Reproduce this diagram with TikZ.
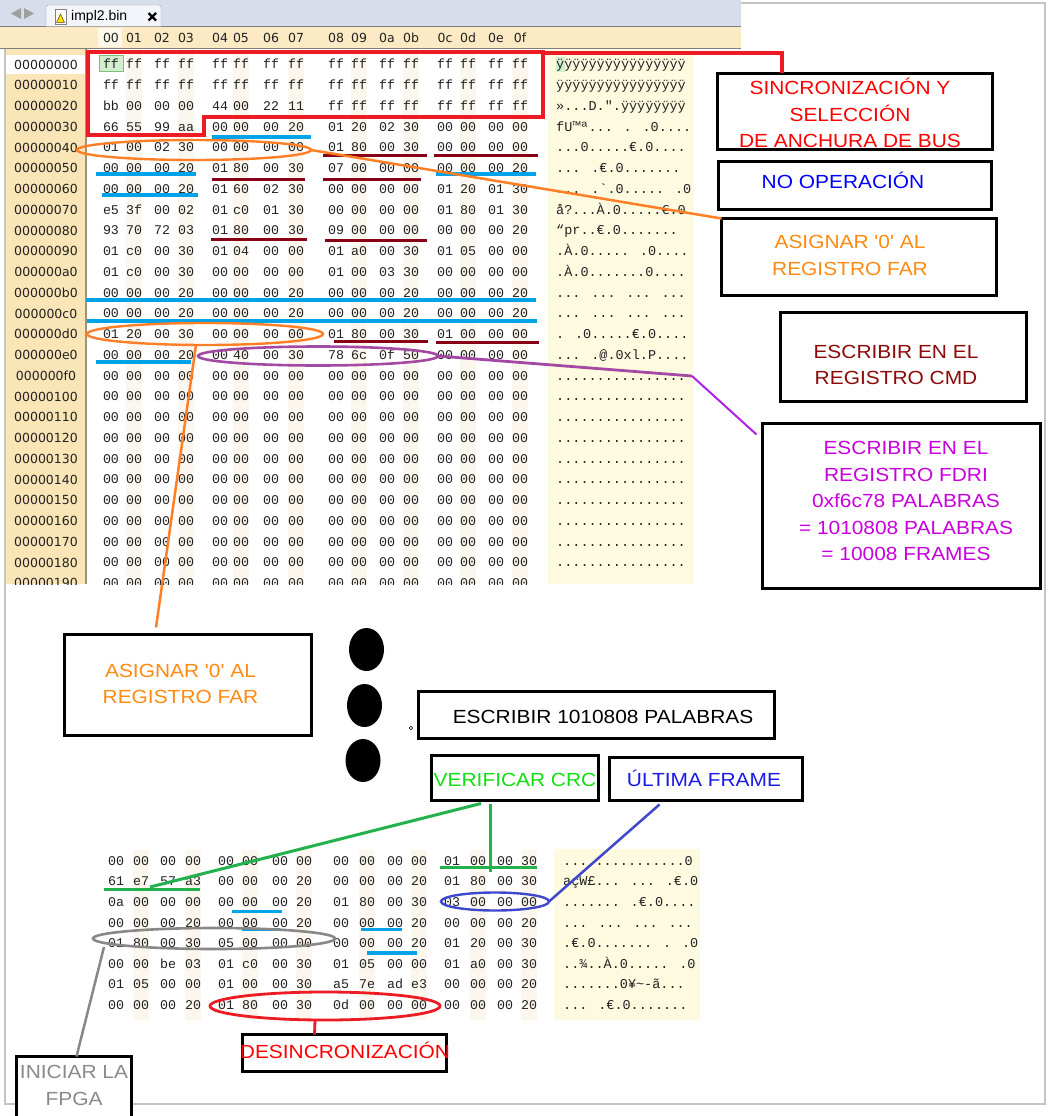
\documentclass[tikz,border=0pt]{standalone}
\usepackage{fontspec}
\usetikzlibrary{calc,shapes.geometric}

\newfontfamily\calloutfont[FakeStretch=1.1,Ligatures=TeXOff]{Liberation Sans}
\newfontfamily\hexfont[Ligatures=TeXOff]{Liberation Mono}
\newfontfamily\addrfont{DejaVu Sans}
\newfontfamily\uifont{Liberation Sans}

% editor chrome
\definecolor{tabbar}{HTML}{D8DDEB}
\definecolor{tabface}{HTML}{F3F5FA}
\definecolor{tabedge}{HTML}{9AA3B5}
\definecolor{chromeline}{HTML}{7E7E7E}
\definecolor{headbg}{HTML}{FBEAC3}
\definecolor{addrbg}{HTML}{F9E5B6}
\definecolor{addrline}{HTML}{A0937C}
\definecolor{asciibg}{HTML}{FEFAE0}
\definecolor{stripe}{HTML}{FCF7EE}
\definecolor{hexink}{HTML}{222222}
\definecolor{cursorfill}{HTML}{D3EDCF}
\definecolor{cursorline}{HTML}{7DBE78}
\definecolor{framegrey}{HTML}{C4C4C4}
% marker pens
\definecolor{mkred}{HTML}{ED1C24}
\definecolor{mkblue}{HTML}{00A2E8}
\definecolor{mkdarkred}{HTML}{880015}
\definecolor{mkorange}{HTML}{FF7F27}
\definecolor{mkpurple}{HTML}{A349A4}
\definecolor{mkviolet}{HTML}{B020E8}
\definecolor{mkgreen}{HTML}{22B14C}
\definecolor{mkindigo}{HTML}{3F48CC}
\definecolor{mkgrey}{HTML}{888888}
% note texts
\definecolor{txred}{HTML}{FF0000}
\definecolor{txblue}{HTML}{0000FF}
\definecolor{txorange}{HTML}{FF8A12}
\definecolor{txmaroon}{HTML}{8C0A0A}
\definecolor{txmagenta}{HTML}{C800DC}
\definecolor{txgreen}{HTML}{10E010}
\definecolor{txindigo}{HTML}{1A1AE6}
\definecolor{txgrey}{HTML}{8A8A8A}

% line strut: 19pt above, 5.4pt below the baseline
\newcommand\ls{\rule[-5.4pt]{0pt}{24.4pt}}
\def\topcols{111,134,162,186,220,241,271,296,336,359,387,411,445,468,496,520}
\def\botcols{116,141,168,193,226,250,280,304,341,367,395,419,452,478,505,529}
\newcommand\toprow[2]{%
  \foreach \v [count=\c] in {#2} {%
    \pgfmathsetmacro\xx{{\topcols}[\c-1]}%
    \node[hexcell] (t#1-\c) at (\xx,{64.5+20.75*#1}) {\v};}}
\newcommand\botrow[2]{%
  \foreach \v [count=\c] in {#2} {%
    \pgfmathsetmacro\xx{{\botcols}[\c-1]}%
    \node[hexcell] (b#1-\c) at (\xx,{861+20.6*#1}) {\v};}}

\begin{document}
\begin{tikzpicture}[x=1pt,y=-1pt,
  hexcell/.style={font=\hexfont\fontsize{13.3}{14}\selectfont, text=hexink, inner sep=0pt, text height=8.6pt, text depth=0pt},
  asccell/.style={font=\hexfont\fontsize{13.5}{14}\selectfont, text=hexink, inner sep=0pt, anchor=west, text height=8.6pt, text depth=0pt},
  addrcell/.style={font=\addrfont\fontsize{12.5}{14}\selectfont, text=hexink, inner sep=0pt, text height=9.1pt, text depth=0pt},
  notebox/.style={draw=black, line width=2.8pt, fill=white, inner sep=0pt, outer sep=0pt},
  notetext/.style={font=\calloutfont\fontsize{19}{26.5}\selectfont, align=center, inner sep=0pt},
  markring/.style={ellipse, draw, fill=none, inner sep=0pt, outer sep=0pt},
  bigdot/.style={ellipse, fill=black, inner sep=0pt, minimum width=35pt, minimum height=43pt},
]
\fill[white] (0,0) rectangle (1049,1116);
\useasboundingbox (0,0) rectangle (1049,1116);
\draw[framegrey, line width=1.2pt] (5,3) rectangle (1045,1104);

% ---------------- hex editor window ----------------
\begin{scope}
\clip (0,0) rectangle (741,584);
\fill[tabbar] (0,0) rectangle (741,26);
\fill[headbg] (0,27) rectangle (741,48);
\draw[chromeline, line width=1pt] (0,26.5) -- (741,26.5);
\draw[chromeline, line width=0.9pt] (0,48.3) -- (741,48.3);
\fill[addrbg] (6,48.8) rectangle (86,584);
\draw[addrline, line width=1.2pt] (86,48.8) -- (86,584);
\fill[white] (6,55) rectangle (85.4,74);
\fill[asciibg] (548,48.8) rectangle (694,584);
\foreach \c in {2,4,...,16} {
  \pgfmathsetmacro\xx{{\topcols}[\c-1]}
  \fill[stripe] (\xx-8,48.8) rectangle (\xx+8,584);
}
% tab
\fill[gray!75] (11,13.5) -- (21,8) -- (21,19) -- cycle;
\fill[gray!75] (24,8) -- (24,19) -- (34,13.5) -- cycle;
\draw[tabedge, fill=tabface, rounded corners=2pt] (46,26.5) -- (46,5) -- (161,5) -- (161,26.5);
\draw[gray, fill=white, line width=0.6pt] (55,9) rectangle (66,24);
\draw[black!60!orange, fill=yellow!85!orange, line width=0.5pt] (56.5,22.5) -- (60.5,14) -- (64.5,22.5) -- cycle;
\node[font=\uifont\fontsize{14}{16}\selectfont, inner sep=0pt, anchor=west] (tabname) at (71,16.5) {impl2.bin};
\draw[line width=2.3pt] (148.5,13) -- (156,20.5) (148.5,20.5) -- (156,13);
% column header
\fill[white!65!headbg] (98,28) rectangle (122,47.5);
\foreach \h [count=\c] in {00,01,02,03,04,05,06,07,08,09,0a,0b,0c,0d,0e,0f} {
  \pgfmathsetmacro\xx{{\topcols}[\c-1]}
  \node[addrcell] (hd\c) at (\xx,38) {\h};
}
% cursor
\fill[cursorfill] (99,55) rectangle (123,71);
\draw[cursorline, line width=0.8pt] (99,55) rectangle (123,71);
\fill[cursorfill] (556,57) rectangle (565,72);
% offsets
\foreach \a [count=\i from 0] in {00000000,00000010,00000020,00000030,00000040,00000050,00000060,00000070,00000080,00000090,000000a0,000000b0,000000c0,000000d0,000000e0,000000f0,00000100,00000110,00000120,00000130,00000140,00000150,00000160,00000170,00000180,00000190}
  \node[addrcell] (addr\i) at (46,{64.5+20.75*\i}) {\a};
% bytes
\toprow{0}{ff,ff,ff,ff,ff,ff,ff,ff,ff,ff,ff,ff,ff,ff,ff,ff}
\toprow{1}{ff,ff,ff,ff,ff,ff,ff,ff,ff,ff,ff,ff,ff,ff,ff,ff}
\toprow{2}{bb,00,00,00,44,00,22,11,ff,ff,ff,ff,ff,ff,ff,ff}
\toprow{3}{66,55,99,aa,00,00,00,20,01,20,02,30,00,00,00,00}
\toprow{4}{01,00,02,30,00,00,00,00,01,80,00,30,00,00,00,00}
\toprow{5}{00,00,00,20,01,80,00,30,07,00,00,00,00,00,00,20}
\toprow{6}{00,00,00,20,01,60,02,30,00,00,00,00,01,20,01,30}
\toprow{7}{e5,3f,00,02,01,c0,01,30,00,00,00,00,01,80,01,30}
\toprow{8}{93,70,72,03,01,80,00,30,09,00,00,00,00,00,00,20}
\toprow{9}{01,c0,00,30,01,04,00,00,01,a0,00,30,01,05,00,00}
\toprow{10}{01,c0,00,30,00,00,00,00,01,00,03,30,00,00,00,00}
\toprow{11}{00,00,00,20,00,00,00,20,00,00,00,20,00,00,00,20}
\toprow{12}{00,00,00,20,00,00,00,20,00,00,00,20,00,00,00,20}
\toprow{13}{01,20,00,30,00,00,00,00,01,80,00,30,01,00,00,00}
\toprow{14}{00,00,00,20,00,40,00,30,78,6c,0f,50,00,00,00,00}
\foreach \r in {15,...,25} {\toprow{\r}{00,00,00,00,00,00,00,00,00,00,00,00,00,00,00,00}}
% text column
\node[asccell] (asc0) at (556,64.5) {ÿÿÿÿÿÿÿÿÿÿÿÿÿÿÿÿ};
\node[asccell] (asc1) at (556,85.25) {ÿÿÿÿÿÿÿÿÿÿÿÿÿÿÿÿ};
\node[asccell] (asc2) at (556,106) {»...D.".ÿÿÿÿÿÿÿÿ};
\node[asccell] (asc3) at (556,126.75) {fU™ª... . .0....};
\node[asccell] (asc4) at (556,147.5) {...0.....€.0....};
\node[asccell] (asc5) at (556,168.25) {... .€.0.......};
\node[asccell] (asc6) at (556,189) {... .`.0..... .0};
\node[asccell] (asc7) at (556,209.75) {å?...À.0.....€.0};
\node[asccell] (asc8) at (556,230.5) {“pr..€.0.......};
\node[asccell] (asc9) at (556,251.25) {.À.0..... .0....};
\node[asccell] (asc10) at (556,272) {.À.0.......0....};
\node[asccell] (asc11) at (556,292.75) {... ... ... ...};
\node[asccell] (asc12) at (556,313.5) {... ... ... ...};
\node[asccell] (asc13) at (556,334.25) {. .0.....€.0....};
\node[asccell] (asc14) at (556,355) {... .@.0xl.P....};
\foreach \r in {15,...,25} {\node[asccell] (asc\r) at (556,{64.5+20.75*\r}) {................};}
\end{scope}

% ---------------- dump excerpt near the end ----------------
\foreach \c in {2,4,...,16} {
  \pgfmathsetmacro\xx{{\botcols}[\c-1]}
  \fill[stripe] (\xx-8,850) rectangle (\xx+8,1020);
}
\fill[asciibg] (554,849) rectangle (700,1020);
\botrow{0}{00,00,00,00,00,00,00,00,00,00,00,00,01,00,00,30}
\botrow{1}{61,e7,57,a3,00,00,00,20,00,00,00,20,01,80,00,30}
\botrow{2}{0a,00,00,00,00,00,00,20,01,80,00,30,03,00,00,00}
\botrow{3}{00,00,00,20,00,00,00,20,00,00,00,20,00,00,00,20}
\botrow{4}{01,80,00,30,05,00,00,00,00,00,00,20,01,20,00,30}
\botrow{5}{00,00,be,03,01,c0,00,30,01,05,00,00,01,a0,00,30}
\botrow{6}{01,05,00,00,01,00,00,30,a5,7e,ad,e3,00,00,00,20}
\botrow{7}{00,00,00,20,01,80,00,30,0d,00,00,00,00,00,00,20}
\node[asccell] (basc0) at (563,861) {...............0};
\node[asccell] (basc1) at (563,881.6) {açW£... ... .€.0};
\node[asccell] (basc2) at (563,902.2) {....... .€.0....};
\node[asccell] (basc3) at (563,922.8) {... ... ... ...};
\node[asccell] (basc4) at (563,943.4) {.€.0....... . .0};
\node[asccell] (basc5) at (563,964) {..¾..À.0..... .0};
\node[asccell] (basc6) at (563,984.6) {.......0¥\textasciitilde{}-ã...};
\node[asccell] (basc7) at (563,1005.2) {... .€.0.......};

% ---------------- marker annotations ----------------
% NOOP words
\begin{scope}[mkblue, line width=4.5pt]
\draw (212,137) -- (311,137);
\draw (96,174) -- (196,174);
\draw (436,174) -- (536,174);
\draw (102,195) -- (198,195);
\draw (86,300) -- (536,300);
\draw (87,321) -- (537,321);
\draw (96,362) -- (191,362);
\end{scope}
\begin{scope}[mkblue, line width=3.5pt]
\draw (232,911.7) -- (282,911.7);
\draw (242,929.5) -- (280,929.5);
\draw (361,929.3) -- (402,929.3);
\draw (367,953) -- (417,953);
\end{scope}
% CMD writes
\begin{scope}[mkdarkred, line width=3pt]
\draw (323,155) -- (427,155);
\draw (434,155) -- (537.5,155);
\draw (212,179) -- (305,179);
\draw (323,179) -- (421,179);
\draw (211,239) -- (307,239);
\draw (325,240) -- (427,240);
\draw (334,341) -- (428,341);
\draw (436,342) -- (539,342);
\end{scope}
% CRC words
\begin{scope}[mkgreen, line width=3.2pt]
\draw (440,867.3) -- (537,867.3);
\draw (104,889.3) -- (200,889.3);
\end{scope}
% sync / bus width block
\draw[mkred, line width=4.5pt, line join=miter] (88,52) -- (543,52) -- (543,117) -- (204,117) -- (204,135) -- (88,135) -- cycle;
\coordinate (syncmark) at (543,53.5);

\node[markring, draw=mkorange, line width=2.4pt, minimum width=234pt, minimum height=20pt] (ring40) at (194,150) {};
\node[markring, draw=mkorange, line width=2.4pt, minimum width=236pt, minimum height=22pt] (ringd0) at (205,334) {};
\node[markring, draw=mkpurple, line width=2.6pt, minimum width=240pt, minimum height=19pt] (ringe0) at (318,356) {};
\node[markring, draw=mkindigo, line width=2.4pt, minimum width=108pt, minimum height=18pt] (ringlast) at (495,901.5) {};
\node[markring, draw=mkgrey, line width=2.6pt, minimum width=242pt, minimum height=21pt] (ringinit) at (214,938.5) {};
\node[markring, draw=mkred, line width=2.8pt, minimum width=230pt, minimum height=28pt] (ringdes) at (325,1006) {};

% ---------------- notes ----------------
\node[notebox, minimum width=275pt, minimum height=76pt] (sync) at (855,111.5) {};
\node[notetext, text=txred] (synct) at (850,114.5) {\ls SINCRONIZACIÓN Y\\\ls SELECCIÓN\\\ls DE ANCHURA DE BUS};
\node[notebox, minimum width=273pt, minimum height=48pt] (noop) at (855,185.5) {};
\node[notetext, text=txblue] (noopt) at (843,182) {\ls NO OPERACIÓN};
\node[notebox, minimum width=275pt, minimum height=77pt] (far1) at (859,257) {};
\node[notetext, text=txorange] (far1t) at (850,255) {\ls ASIGNAR '0' AL\\\ls REGISTRO FAR};
\node[notebox, minimum width=246pt, minimum height=89pt] (cmd) at (903.5,357) {};
\node[notetext, text=txmaroon] (cmdt) at (896,364.5) {\ls ESCRIBIR EN EL\\\ls REGISTRO CMD};
\node[notebox, minimum width=278pt, minimum height=165pt] (fdri) at (901.5,506) {};
\node[notetext, text=txmagenta] (fdrit) at (906,501) {\ls ESCRIBIR EN EL\\\ls REGISTRO FDRI\\\ls 0xf6c78 PALABRAS\\\ls = 1010808 PALABRAS\\\ls = 10008 FRAMES};
\node[notebox, minimum width=247pt, minimum height=101pt] (far2) at (188,685) {};
\node[notetext, text=txorange] (far2t) at (180.5,683.5) {\ls ASIGNAR '0' AL\\\ls REGISTRO FAR};
\node[notebox, minimum width=356pt, minimum height=47pt] (write) at (596.5,715) {};
\node[notetext, text=black] (writet) at (603,717) {\ls ESCRIBIR 1010808 PALABRAS};
\node[notebox, minimum width=167pt, minimum height=45pt] (crc) at (515,778) {};
\node[notetext, text=txgreen] (crct) at (515,780) {\ls VERIFICAR CRC};
\node[notebox, minimum width=193pt, minimum height=43pt] (last) at (706,779) {};
\node[notetext, text=txindigo] (lastt) at (704,780) {\ls ÚLTIMA FRAME};
\node[notebox, minimum width=204pt, minimum height=37pt] (desync) at (344.5,1053) {};
\node[notetext, text=txred] (desynct) at (345,1052) {\ls DESINCRONIZACIÓN};
\node[notebox, minimum width=115pt, minimum height=77pt] (init) at (74,1095) {};
\node[notetext, text=txgrey] (initt) at (74,1085) {\ls INICIAR LA\\\ls FPGA};

% ---------------- connectors ----------------
\draw[mkred, line width=4pt] (syncmark) -| ($(sync.north west)+(64,0)$);
\draw[mkorange, line width=2.5pt] (ring40.east) -- (far1.north west);
\draw[mkorange, line width=2.5pt] ($(ringd0.south)+(-9,0)$) -- ($(far2.north)+(-32,-7)$);
\coordinate (fdribend) at (692,376);
\draw[mkpurple, line width=2.8pt] (ringe0.east) -- (fdribend);
\draw[mkviolet, line width=2pt] (fdribend) -- ($(fdri.north west)+(-6,11)$);
\draw[mkgreen, line width=3pt] ($(crc.south)+(-34,3)$) -- (150,887);
\draw[mkgreen, line width=3pt] ($(crc.south)+(-25,3)$) -- (490,872);
\draw[mkindigo, line width=2.5pt] (ringlast.east) -- ($(last.south west)+(50,4)$);
\draw[mkgrey, line width=2.5pt] ($(ringinit.center)+(-110,8.5)$) -- ($(init.north west)+(60,0)$);
\draw[mkred, line width=2.8pt] ($(ringdes.south)+(-10,0)$) -- ($(desync.north west)+(72,0)$);

% ---------------- ellipsis dots ----------------
\node[bigdot] (dot1) at (366.5,649.5) {};
\node[bigdot] (dot2) at (364.5,705.5) {};
\node[bigdot] (dot3) at (363,760.5) {};
\draw[line width=0.6pt] (411,728) circle[radius=1.8];
\end{tikzpicture}
\end{document}
